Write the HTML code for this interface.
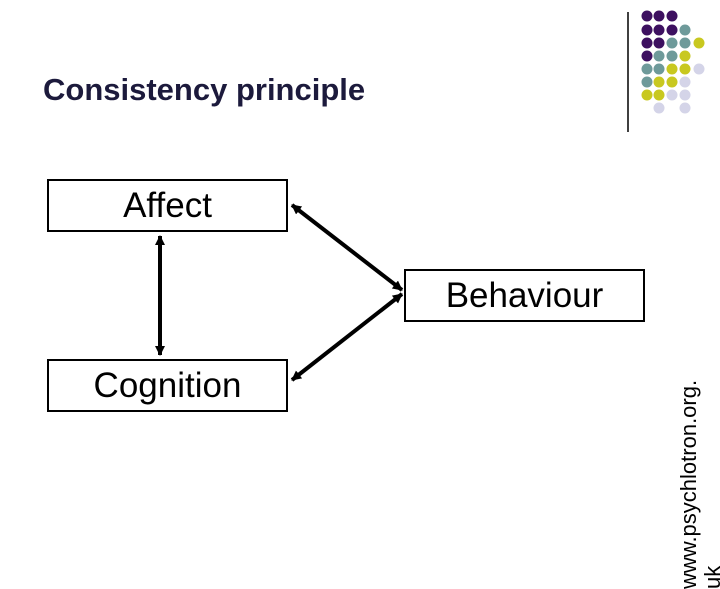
<!DOCTYPE html>
<html><head><style>
body{margin:0;width:720px;height:540px;overflow:hidden;background:#fff;position:relative;font-family:"Liberation Sans",sans-serif}
.t{position:absolute;left:43px;top:72px;font-size:31px;font-weight:bold;color:#1c1a3c;white-space:nowrap}
.b{position:absolute;border:2px solid #000;box-sizing:border-box;background:#fff;font-size:35px;text-align:center;line-height:50px;white-space:nowrap}
.r{position:absolute;left:677px;top:589px;transform:rotate(-90deg);transform-origin:0 0;font-size:22px;line-height:24px;white-space:nowrap;width:260px}
</style></head><body>
<svg width="720" height="540" style="position:absolute;left:0;top:0">
<line x1="628" y1="12" x2="628" y2="132" stroke="#000" stroke-width="1.5"/>
<defs><marker id="a" markerWidth="10" markerHeight="10" refX="9" refY="5" orient="auto-start-reverse" markerUnits="userSpaceOnUse"><path d="M0,0 L10,5 L0,10 z"/></marker></defs>
<g stroke="#000" stroke-width="4" marker-start="url(#a)" marker-end="url(#a)">
<line x1="160" y1="236" x2="160" y2="355"/>
<line x1="292" y1="205" x2="402" y2="290"/>
<line x1="292" y1="380" x2="402" y2="294"/>
</g>
<g>
<circle cx="647" cy="16" r="5.5" fill="#3d1060"/><circle cx="659" cy="16" r="5.5" fill="#3d1060"/><circle cx="672" cy="16" r="5.5" fill="#3d1060"/>
<circle cx="647" cy="30" r="5.5" fill="#3d1060"/><circle cx="659" cy="30" r="5.5" fill="#3d1060"/><circle cx="672" cy="30" r="5.5" fill="#3d1060"/><circle cx="685" cy="30" r="5.5" fill="#6e9a9a"/>
<circle cx="647" cy="43" r="5.5" fill="#3d1060"/><circle cx="659" cy="43" r="5.5" fill="#3d1060"/><circle cx="672" cy="43" r="5.5" fill="#6e9a9a"/><circle cx="685" cy="43" r="5.5" fill="#6e9a9a"/><circle cx="699" cy="43" r="5.5" fill="#c8c820"/>
<circle cx="647" cy="56" r="5.5" fill="#3d1060"/><circle cx="659" cy="56" r="5.5" fill="#6e9a9a"/><circle cx="672" cy="56" r="5.5" fill="#6e9a9a"/><circle cx="685" cy="56" r="5.5" fill="#c8c820"/>
<circle cx="647" cy="69" r="5.5" fill="#6e9a9a"/><circle cx="659" cy="69" r="5.5" fill="#6e9a9a"/><circle cx="672" cy="69" r="5.5" fill="#c8c820"/><circle cx="685" cy="69" r="5.5" fill="#c8c820"/><circle cx="699" cy="69" r="5.5" fill="#d4d4e8"/>
<circle cx="647" cy="82" r="5.5" fill="#6e9a9a"/><circle cx="659" cy="82" r="5.5" fill="#c8c820"/><circle cx="672" cy="82" r="5.5" fill="#c8c820"/><circle cx="685" cy="82" r="5.5" fill="#d4d4e8"/>
<circle cx="647" cy="95" r="5.5" fill="#c8c820"/><circle cx="659" cy="95" r="5.5" fill="#c8c820"/><circle cx="672" cy="95" r="5.5" fill="#d4d4e8"/><circle cx="685" cy="95" r="5.5" fill="#d4d4e8"/>
<circle cx="659" cy="108" r="5.5" fill="#d4d4e8"/><circle cx="685" cy="108" r="5.5" fill="#d4d4e8"/>
</g>
</svg>
<div class="t">Consistency principle</div>
<div class="b" style="left:47px;top:179px;width:241px;height:53px">Affect</div>
<div class="b" style="left:404px;top:269px;width:241px;height:53px">Behaviour</div>
<div class="b" style="left:47px;top:359px;width:241px;height:53px">Cognition</div>
<div class="r">www.psychlotron.org.<br>uk</div>
</body></html>
